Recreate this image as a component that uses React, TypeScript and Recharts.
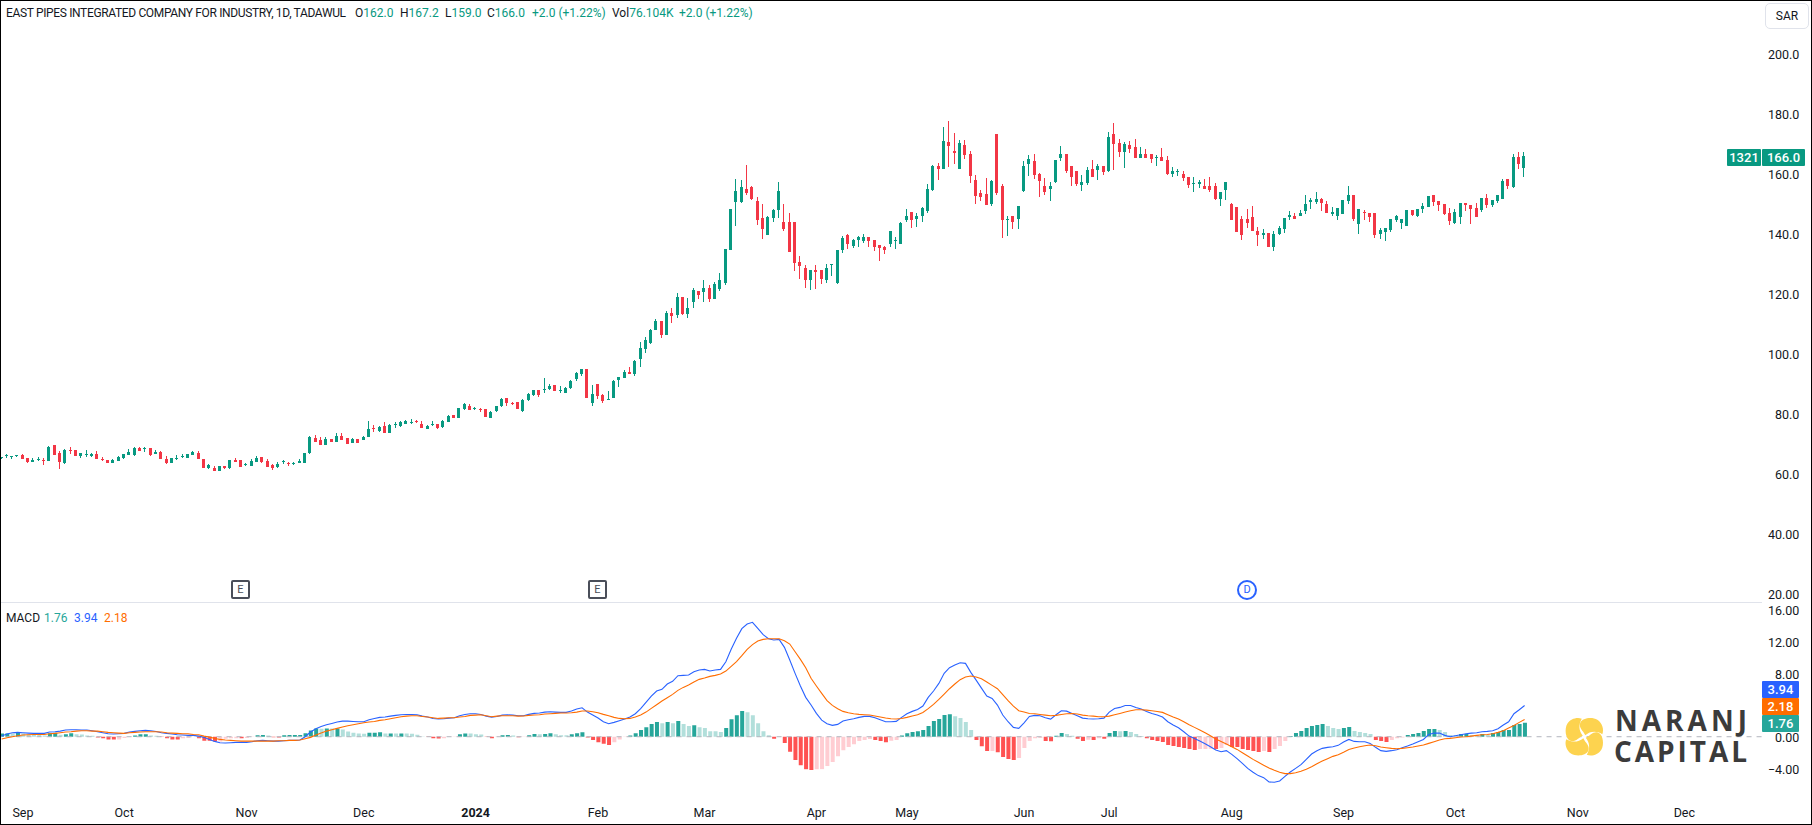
import { Bar, Cell, ComposedChart, Line, ReferenceLine, XAxis, YAxis } from 'recharts'

// daily OHLC (Aug 28 2023 - Oct 20 2024)
const opens = [
  65.2,66.0,65.8,66.0,66.3,65.3,64.1,64.8,64.8,64.4,69.6,66.9,63.6,68.0,68.0,66.0,66.4,66.0,66.7,65.0,
  64.7,63.8,64.4,65.2,66.3,66.3,68.7,68.6,68.6,66.6,67.2,65.1,63.8,65.1,65.8,65.4,66.3,67.1,65.0,61.9,
  62.1,61.1,62.6,61.9,64.7,64.7,63.0,62.7,64.1,65.6,64.2,62.9,62.2,64.1,63.8,63.4,63.7,63.7,66.9,71.9,
  71.4,69.8,71.7,70.8,72.7,71.9,70.3,71.7,71.3,72.3,75.2,74.4,76.0,73.8,76.4,76.0,76.7,77.2,77.6,76.8,
  75.1,76.6,76.6,75.6,77.4,79.7,78.7,81.7,82.7,81.8,81.7,81.6,78.7,81.1,82.6,85.2,83.8,83.9,81.1,84.6,
  86.3,87.9,88.1,88.2,89.7,87.5,87.0,88.6,91.6,93.2,95.0,83.7,90.0,86.2,84.8,85.3,91.3,92.0,94.0,93.3,
  98.3,101.7,103.7,108.0,111.0,106.3,113.7,113.0,119.0,113.3,117.3,121.0,120.7,122.0,118.3,121.7,123.7,134.7,150.7,150.7,
  155.0,155.7,151.0,145.3,139.7,145.3,148.0,144.0,144.0,144.0,130.7,128.7,124.7,128.0,128.0,124.7,129.7,123.7,134.7,139.7,
  136.0,138.0,137.7,139.0,138.0,136.3,135.7,136.7,137.7,136.7,144.7,147.3,145.0,146.0,147.7,154.7,162.7,161.7,170.7,167.7,
  161.7,169.7,166.7,158.0,153.7,153.3,150.0,173.3,156.0,144.7,146.0,145.0,154.3,163.3,164.3,160.0,156.0,155.0,157.3,165.3,
  166.7,162.7,161.0,156.3,157.0,161.7,161.3,162.7,161.0,173.3,170.3,167.3,169.7,169.0,165.3,166.7,166.7,165.4,165.7,164.7,
  160.0,160.8,160.0,159.0,156.8,156.7,156.0,156.0,156.0,151.7,154.7,150.0,149.0,145.0,145.0,145.7,141.0,139.7,140.3,135.7,
  140.0,141.7,145.7,146.0,146.0,147.7,150.7,150.7,151.7,150.0,146.7,146.0,146.7,151.0,153.0,143.3,147.3,147.0,147.0,140.0,
  140.7,141.3,144.7,143.7,142.7,148.0,146.0,148.3,149.0,153.0,151.0,150.0,147.0,143.7,145.7,150.3,149.7,148.7,148.0,152.0,
  149.7,151.0,151.7,158.3,155.7,165.7,162.0,
]

const highs = [
  65.8,66.6,66.0,66.4,66.6,65.4,65.3,65.8,65.3,69.3,69.6,67.8,68.3,68.9,68.0,66.9,67.9,67.1,67.6,65.8,
  64.7,65.0,66.0,66.7,68.4,68.9,69.0,69.0,68.7,67.9,67.7,66.0,65.4,66.4,66.7,66.8,67.7,67.7,65.0,63.4,
  62.7,62.7,62.6,64.7,65.4,64.7,63.7,64.9,66.1,65.8,65.0,63.2,63.9,64.8,64.0,64.0,64.9,67.0,72.7,73.0,
  72.4,72.2,71.8,73.6,73.8,71.9,72.0,71.7,72.7,77.7,76.2,76.0,77.3,76.6,77.2,77.6,78.0,78.2,78.0,77.6,
  76.2,77.6,76.7,78.0,79.7,79.7,82.1,83.7,83.4,82.3,82.0,81.6,81.0,82.8,85.2,85.3,84.1,84.0,85.0,87.0,
  88.0,88.1,91.9,90.0,89.7,89.4,89.0,91.3,94.0,95.0,95.0,89.7,90.0,86.7,87.7,91.3,92.4,94.7,95.7,98.0,
  104.0,105.7,108.3,111.7,111.0,114.3,115.3,120.3,119.0,118.7,122.0,121.0,124.7,123.0,124.0,127.0,135.0,148.3,158.3,158.0,
  163.0,156.0,152.3,150.0,146.0,148.3,157.3,150.0,147.0,144.0,132.7,129.7,128.0,129.7,128.0,130.0,130.0,134.7,139.3,140.0,
  138.3,139.3,140.0,139.0,138.0,136.3,136.0,141.0,139.0,144.0,148.3,147.3,147.0,149.0,156.7,163.0,163.7,175.5,177.5,173.7,
  171.3,171.3,167.7,159.7,154.7,158.7,158.0,173.3,156.7,146.0,146.0,149.3,164.3,166.3,166.7,160.3,158.7,157.3,164.7,169.3,
  166.7,162.7,161.0,159.7,162.3,164.7,163.3,162.7,174.0,177.0,171.7,170.7,171.0,171.7,169.0,168.3,166.7,166.3,168.7,166.0,
  162.3,161.7,161.0,159.0,159.0,158.0,158.3,159.0,157.0,154.0,157.3,150.3,149.0,146.0,148.3,149.3,142.3,141.7,140.3,141.0,
  142.7,145.3,147.7,147.0,148.0,153.0,152.0,154.0,152.0,151.0,149.0,148.7,151.3,156.0,153.0,148.3,148.0,147.0,147.0,142.0,
  142.0,145.0,146.3,145.0,148.0,148.0,148.3,150.3,152.7,153.0,151.0,150.0,148.7,148.3,150.3,150.3,149.7,150.3,152.0,153.3,
  151.3,153.0,158.3,158.3,166.7,167.3,167.2,
]

const lows = [
  65.0,65.4,65.1,65.7,64.9,63.7,64.1,64.3,63.0,64.3,66.4,61.8,63.3,66.7,66.1,65.4,65.8,65.8,65.0,64.4,
  63.7,63.7,64.3,65.1,66.2,66.0,67.7,67.4,66.0,66.5,65.1,63.2,63.7,64.7,65.3,65.4,66.2,65.1,62.1,61.8,
  61.1,61.0,61.8,61.6,64.1,62.3,62.6,62.6,64.0,63.7,62.4,61.3,62.0,63.3,62.7,63.0,63.6,63.6,66.7,70.6,
  69.6,69.7,70.7,70.7,71.2,70.1,70.2,70.4,71.2,72.2,74.1,74.1,73.8,73.8,75.2,75.7,76.6,76.8,76.9,75.3,
  75.0,76.1,75.0,75.2,77.3,78.8,78.6,81.3,81.3,81.4,80.8,79.0,78.6,80.8,82.3,82.8,82.9,81.7,80.7,84.2,
  86.0,85.8,87.0,88.0,87.6,87.1,86.9,88.3,91.0,92.7,85.3,82.7,85.0,83.7,84.7,85.2,89.0,91.9,93.3,92.7,
  95.7,100.3,103.3,108.0,105.3,106.3,110.3,112.0,113.0,112.0,115.3,118.3,117.3,117.3,118.3,121.0,123.0,134.7,142.7,150.3,
  153.0,151.3,143.0,138.3,139.7,144.0,145.3,141.0,134.0,127.7,125.0,122.0,121.3,121.7,123.3,123.7,126.0,123.3,133.7,135.0,
  135.3,135.7,137.0,135.7,134.3,131.0,133.3,135.7,135.0,136.7,144.0,142.0,142.3,144.0,147.0,154.3,158.0,161.7,162.3,163.3,
  161.7,165.0,157.0,150.0,151.0,149.7,149.3,153.0,138.7,139.3,141.7,141.7,154.0,159.3,158.3,152.3,153.0,151.0,157.0,164.3,
  160.3,156.0,156.0,154.3,156.3,159.0,158.0,159.7,160.7,161.3,165.7,162.0,167.0,165.3,165.3,165.3,163.7,162.7,164.3,159.7,
  159.0,159.3,157.7,155.3,154.0,155.3,155.0,154.0,151.3,149.3,151.3,144.7,140.7,138.0,142.0,141.0,136.0,138.3,135.7,134.3,
  139.7,140.3,144.7,145.0,146.0,146.7,148.3,150.0,147.7,147.0,146.0,144.7,146.7,150.0,144.3,140.0,144.7,144.0,138.7,138.3,
  137.7,140.7,144.0,141.7,142.7,146.0,145.7,147.0,149.0,149.3,147.7,146.3,143.0,143.3,143.3,147.7,143.3,145.7,147.3,148.7,
  149.0,150.3,151.7,155.0,155.3,161.7,159.0,
]

const closes = [
  65.6,66.2,66.0,66.4,65.1,64.0,64.8,64.9,64.3,68.9,66.4,64.0,68.1,67.8,66.1,66.9,66.7,66.8,65.1,64.8,
  63.8,64.7,65.7,66.6,67.3,68.7,67.8,68.7,66.4,67.4,65.1,63.7,65.3,65.3,66.0,66.7,67.3,65.1,62.1,63.0,
  61.1,62.7,61.9,64.6,64.1,62.3,63.2,64.3,65.4,64.0,62.4,62.0,63.2,64.3,63.2,63.7,64.3,66.9,72.2,70.7,
  69.7,71.8,70.7,72.6,71.3,70.1,71.6,70.4,72.2,74.9,74.9,75.7,73.8,76.3,76.7,77.2,77.6,77.4,77.2,75.3,
  76.1,76.8,75.3,77.7,79.3,78.8,81.9,83.2,81.3,82.0,81.4,79.0,80.8,82.6,84.9,83.6,83.4,81.7,84.7,86.6,
  87.9,86.2,88.3,89.3,87.7,87.9,88.7,91.1,93.7,95.0,85.3,86.7,86.0,84.3,85.0,91.0,92.3,94.0,93.3,97.7,
  102.0,104.7,108.0,111.0,106.3,113.7,112.7,119.0,113.3,115.3,121.3,119.7,122.0,118.3,123.3,124.7,135.0,148.3,154.3,155.7,
  153.7,151.7,144.7,141.7,145.7,148.0,154.3,141.7,134.0,130.3,129.3,124.7,128.0,127.3,125.0,128.7,130.0,134.7,138.7,136.7,
  138.0,139.0,139.0,137.7,135.7,135.3,134.7,141.0,138.0,143.7,146.0,144.7,146.0,148.7,155.0,162.7,161.7,171.0,169.3,167.0,
  170.3,166.3,159.3,152.7,152.3,149.7,157.7,153.7,144.7,145.0,144.0,149.3,162.7,165.0,159.7,157.7,154.0,156.0,164.7,166.7,
  161.0,159.0,156.7,157.3,161.3,159.0,162.7,160.7,172.3,170.0,167.3,170.0,168.3,165.3,166.7,165.3,165.0,165.7,164.3,160.0,
  161.0,161.0,158.7,156.3,157.0,157.3,155.0,154.7,151.7,154.0,157.3,144.7,140.7,139.7,143.7,141.0,139.7,140.3,135.7,140.0,
  142.0,145.3,146.3,145.0,147.0,150.0,151.3,151.7,150.3,147.0,147.3,148.7,151.3,153.0,145.0,148.3,147.0,145.7,139.7,141.3,
  142.0,145.0,146.0,145.0,148.0,146.3,148.3,149.3,152.7,150.7,149.7,146.7,144.3,147.3,150.3,149.7,148.3,145.7,152.0,149.7,
  151.3,153.0,157.7,156.0,165.7,163.3,166.0,
]

const macdLine = [
  0.08,0.34,0.50,0.55,0.50,0.46,0.42,0.42,0.42,0.59,0.63,0.71,0.84,0.88,0.88,0.84,0.84,0.76,0.63,0.50,
  0.38,0.34,0.38,0.42,0.59,0.67,0.76,0.80,0.76,0.67,0.50,0.42,0.34,0.25,0.21,0.17,0.17,0.08,-0.08,-0.34,
  -0.59,-0.76,-0.80,-0.76,-0.71,-0.71,-0.71,-0.63,-0.50,-0.46,-0.50,-0.55,-0.55,-0.50,-0.46,-0.46,-0.42,0,0.59,1.01,
  1.30,1.51,1.68,1.85,1.97,1.97,1.93,1.89,1.89,2.14,2.31,2.44,2.48,2.60,2.69,2.77,2.81,2.81,2.77,2.60,
  2.48,2.31,2.23,2.27,2.35,2.39,2.65,2.81,2.90,2.90,2.81,2.60,2.48,2.56,2.73,2.77,2.73,2.65,2.65,2.82,
  2.95,2.99,3.11,3.16,3.11,3.07,3.07,3.24,3.49,3.66,3.11,2.74,2.36,1.89,1.64,1.81,2.02,2.23,2.48,2.90,
  3.54,4.33,5.13,5.77,5.98,6.65,6.99,7.70,7.74,7.79,8.21,8.42,8.50,8.29,8.42,8.50,9.47,11.03,12.42,13.64,
  14.23,14.44,13.68,12.88,12.37,12.21,12.29,11.28,9.68,8.00,6.40,4.97,4.00,2.95,2.10,1.64,1.43,1.56,1.98,2.15,
  2.27,2.44,2.57,2.57,2.40,2.15,1.89,1.89,1.94,2.44,2.90,3.20,3.45,3.87,4.97,5.77,6.73,8.00,8.71,9.05,
  9.34,9.26,8.12,7.15,6.14,5.13,4.84,4.00,2.74,1.89,1.18,1.05,1.76,2.56,2.69,2.65,2.39,2.23,2.77,3.28,
  3.23,2.94,2.65,2.35,2.27,2.23,2.27,2.35,3.11,3.57,3.70,3.95,3.95,3.70,3.49,3.19,2.94,2.73,2.48,1.89,
  1.47,1.13,0.63,0.08,-0.21,-0.55,-0.88,-1.26,-1.68,-1.89,-1.76,-2.23,-2.77,-3.36,-3.99,-4.49,-4.91,-5.17,-5.71,-5.75,
  -5.59,-5.00,-4.45,-3.99,-3.53,-2.86,-2.18,-1.76,-1.47,-1.34,-1.26,-1.09,-0.67,-0.34,-0.59,-0.63,-0.63,-0.84,-1.34,-1.76,
  -1.85,-1.76,-1.64,-1.39,-1.18,-0.92,-0.63,-0.34,0.29,0.46,0.46,0.17,0,0.13,0.25,0.38,0.46,0.50,0.63,0.67,
  0.76,1.01,1.47,1.89,2.90,3.40,3.94,
]

const signalLine = [
  -0.29,-0.13,0,0.13,0.21,0.25,0.29,0.29,0.29,0.38,0.42,0.50,0.59,0.63,0.71,0.76,0.76,0.71,0.71,0.63,
  0.55,0.50,0.46,0.42,0.50,0.55,0.59,0.63,0.63,0.63,0.59,0.50,0.46,0.42,0.38,0.38,0.29,0.25,0.08,-0.04,
  -0.21,-0.34,-0.42,-0.46,-0.50,-0.55,-0.55,-0.55,-0.55,-0.55,-0.55,-0.55,-0.50,-0.50,-0.46,-0.46,-0.42,-0.25,-0.08,0.21,
  0.46,0.71,0.88,1.05,1.22,1.39,1.51,1.64,1.76,1.85,1.93,2.06,2.14,2.27,2.39,2.52,2.60,2.65,2.65,2.56,
  2.48,2.39,2.31,2.35,2.39,2.39,2.48,2.56,2.69,2.73,2.77,2.65,2.52,2.60,2.65,2.65,2.65,2.60,2.61,2.69,
  2.74,2.78,2.86,2.90,2.95,2.99,2.99,3.03,3.11,3.24,3.24,3.16,3.03,2.82,2.65,2.44,2.31,2.27,2.31,2.48,
  2.74,3.11,3.58,4.04,4.50,4.92,5.35,5.85,6.23,6.52,6.90,7.24,7.41,7.62,7.74,7.91,8.29,8.88,9.47,10.23,
  11.03,11.62,12.08,12.29,12.37,12.37,12.37,12.12,11.70,10.73,9.76,8.71,7.37,6.40,5.47,4.55,3.96,3.54,3.20,3.03,
  2.90,2.82,2.78,2.74,2.61,2.48,2.36,2.27,2.23,2.31,2.44,2.61,2.78,3.07,3.54,4.08,4.71,5.39,6.06,6.65,
  7.20,7.53,7.66,7.53,7.32,6.90,6.48,6.06,5.30,4.55,3.87,3.28,3.11,2.94,2.90,2.81,2.73,2.65,2.69,2.81,
  2.90,2.94,2.86,2.73,2.65,2.60,2.52,2.52,2.60,2.77,2.94,3.11,3.28,3.40,3.40,3.36,3.28,3.19,3.07,2.77,
  2.48,2.23,1.89,1.51,1.18,0.84,0.50,0.13,-0.29,-0.59,-0.92,-1.26,-1.60,-2.02,-2.44,-2.86,-3.23,-3.61,-3.95,-4.24,
  -4.49,-4.66,-4.66,-4.54,-4.37,-4.12,-3.78,-3.40,-3.07,-2.77,-2.48,-2.27,-1.97,-1.60,-1.43,-1.26,-1.13,-1.05,-1.13,-1.30,
  -1.39,-1.47,-1.51,-1.47,-1.39,-1.30,-1.18,-1.05,-0.84,-0.63,-0.42,-0.25,-0.21,-0.13,-0.04,0,0.08,0.17,0.25,0.29,
  0.38,0.55,0.76,1.09,1.43,1.81,2.18,
]

const histogram = [
  0.40,0.42,0.40,0.50,0.40,0.30,0.25,0.24,0.15,0.45,0.50,0.25,0.30,0.45,0.30,0.29,0.15,0.12,-0.10,-0.20,
  -0.35,-0.36,-0.35,-0.15,-0.05,0.15,0.30,0.31,0.15,0.12,-0.05,-0.20,-0.35,-0.36,-0.20,-0.15,-0.05,-0.20,-0.50,-0.51,
  -0.60,-0.59,-0.25,-0.20,-0.19,-0.20,-0.15,-0.05,0.20,0.21,0.15,-0.08,-0.09,0.20,0.21,0.22,0.23,0.45,0.80,1.05,
  1.00,1.05,1.04,1.05,0.90,0.65,0.50,0.40,0.39,0.50,0.51,0.55,0.40,0.41,0.40,0.41,0.40,0.39,0.25,0.02,
  -0.05,-0.20,-0.21,-0.20,-0.05,-0.02,0.30,0.42,0.41,0.30,0.29,-0.05,-0.20,-0.02,0.20,0.21,0.15,-0.06,-0.05,0.20,
  0.35,0.30,0.35,0.45,0.30,0.20,0.19,0.30,0.45,0.55,-0.10,-0.40,-0.70,-0.90,-1.05,-0.70,-0.35,-0.05,0.15,0.45,
  0.85,1.20,1.60,1.85,1.70,1.85,1.70,2.00,1.60,1.35,1.45,1.20,1.10,0.70,0.69,0.60,1.10,2.20,2.70,3.25,
  3.10,2.70,1.70,0.70,0.20,-0.25,-0.05,-0.80,-1.90,-2.95,-3.60,-4.10,-4.20,-4.10,-4.09,-3.70,-3.20,-2.45,-1.70,-1.30,
  -0.95,-0.55,-0.40,-0.30,-0.40,-0.55,-0.70,-0.50,-0.40,0.15,0.45,0.60,0.70,0.85,1.35,2.00,2.25,2.75,2.85,2.60,
  2.35,1.85,0.85,-0.40,-1.20,-1.80,-1.79,-1.95,-2.55,-2.80,-2.95,-2.70,-1.43,-0.55,-0.20,-0.15,-0.55,-0.56,0.12,0.46,
  0.34,0.12,-0.25,-0.55,-0.38,-0.42,-0.20,-0.25,0.46,0.71,0.70,0.71,0.59,0.34,0.10,-0.20,-0.40,-0.55,-0.67,-1.05,
  -1.18,-1.30,-1.43,-1.55,-1.68,-1.55,-1.54,-1.53,-1.55,-1.43,-1.05,-1.30,-1.31,-1.55,-1.68,-1.80,-1.93,-1.80,-1.93,-1.55,
  -1.18,-0.55,0.10,0.46,0.71,1.09,1.34,1.47,1.60,1.34,1.09,0.96,1.09,1.22,0.71,0.59,0.46,0.34,-0.42,-0.55,
  -0.67,-0.42,-0.20,-0.10,0.21,0.34,0.46,0.71,0.96,0.97,0.84,0.59,0.21,0.20,0.34,0.35,0.21,0.20,0.34,0.21,
  0.46,0.59,0.84,0.85,1.47,1.60,1.76,
]

// empty slots to the right of the last bar, TradingView leaves room there
const emptySlots = 44

// slot index of the first trading day of each month
const timeTicks = [4, 23, 46, 68, 89, 112, 132, 153, 170, 192, 208, 231, 252, 273, 296, 316]
const timeLabels = ['Sep', 'Oct', 'Nov', 'Dec', '2024', 'Feb', 'Mar', 'Apr', 'May', 'Jun', 'Jul', 'Aug', 'Sep', 'Oct', 'Nov', 'Dec']

const priceTicks = [20, 40, 60, 80, 100, 120, 140, 160, 180, 200]
const priceLabels = ['20.00', '40.00', '60.0', '80.0', '100.0', '120.0', '140.0', '160.0', '180.0', '200.0']
const macdTicks = [-4, 0, 8, 12, 16]
const macdLabels = ['\u22124.00', '0.00', '8.00', '12.00', '16.00']

const UP = '#089981'
const DOWN = '#f23645'
const TEXT = '#131722'
const FONT = 'Roboto, sans-serif'
const AXIS_X = 1800.4 // right edge of the scale labels, chart coords

const rows = Array.from({ length: closes.length + emptySlots }, (_, i) => ({
  slot: i,
  range: i < closes.length ? [lows[i], highs[i]] : undefined,
  open: opens[i],
  high: highs[i],
  low: lows[i],
  close: closes[i],
  macd: macdLine[i],
  signal: signalLine[i],
  hist: histogram[i],
}))

function histColor(i: number) {
  const v = histogram[i]
  const prev = i > 0 ? histogram[i - 1] : 0
  if (v >= 0) return v >= prev ? '#26a69a' : '#b2dfdb'
  return v < prev ? '#ff5252' : '#ffcdd2'
}

// wick + body, scaled off the low/high bar recharts already positioned
function Candle(props: any) {
  const { x, y, width, height, payload } = props
  if (payload.close == null) return null
  const { open, high, low, close } = payload
  const perUnit = height / (high - low)
  const top = y + (high - Math.max(open, close)) * perUnit
  const bodyH = Math.max(Math.abs(open - close) * perUnit, 1)
  const mid = Math.round(x + width / 2)
  const fill = close >= open ? UP : DOWN
  return (
    <g shapeRendering="crispEdges">
      <rect x={mid - 0.5} y={y} width={1} height={height} fill={fill} />
      <rect x={mid - 1.5} y={top} width={3} height={bodyH} fill={fill} />
    </g>
  )
}

function ScaleTick(props: any) {
  const { y, payload, values, labels } = props
  return (
    <text x={AXIS_X} y={y + 1} textAnchor="end" dominantBaseline="central" fontSize={12.5} fill={TEXT} fontFamily={FONT}>
      {labels[values.indexOf(payload.value)]}
    </text>
  )
}

function TimeTick(props: any) {
  const { x, payload } = props
  const label = timeLabels[timeTicks.indexOf(payload.value)]
  return (
    <text x={x} y={210} textAnchor="middle" dominantBaseline="central" fontSize={12.5} fill={TEXT} fontFamily={FONT} fontWeight={label === '2024' ? 700 : 400}>
      {label}
    </text>
  )
}

function Tag({ left, top, width, height, bg, children }: any) {
  return (
    <div style={{ position: 'absolute', left, top, width, height, background: bg, color: '#fff', fontSize: 13, fontWeight: 500, lineHeight: `${height}px`, textAlign: 'center', borderRadius: 1 }}>
      {children}
    </div>
  )
}

function Span({ left, top, color = TEXT, size = 12, spacing = 0, children }: any) {
  return (
    <span style={{ position: 'absolute', left, top, color, fontSize: size, letterSpacing: spacing, lineHeight: '16px', whiteSpace: 'nowrap' }}>{children}</span>
  )
}

function EventBox({ left, children }: any) {
  return (
    <div style={{ position: 'absolute', left, top: 580, width: 15, height: 15, border: '2px solid #4a4e59', borderRadius: 2, background: '#fff', color: '#4a4e59', fontSize: 11, lineHeight: '15px', textAlign: 'center' }}>
      {children}
    </div>
  )
}

const petal = 'M1 -1.5 C-1 -6 -6 -9 -4 -14 C-2 -19 8 -20 13 -17 C18 -14 20 -7 18 -2.5 C12 -6 6 -5.5 1 -1.5 Z'

function Logo() {
  return (
    <svg width={1812} height={825} style={{ position: 'absolute', left: 0, top: 0, pointerEvents: 'none' }}>
      <g transform="translate(1584.3 736.7)" fill="#fdd34f">
        {[0, 90, 180, 270].map((r) => (
          <path key={r} d={petal} transform={`rotate(${r})`} />
        ))}
      </g>
      <text x={1615} y={731} fontFamily="'Open Sans', sans-serif" fontWeight={700} fontSize={28} fill="#3b3b3b" textLength={132} lengthAdjust="spacing">NARANJ</text>
      <text x={1614} y={762} fontFamily="'Open Sans', sans-serif" fontWeight={700} fontSize={28} fill="#3b3b3b" textLength={133} lengthAdjust="spacing">CAPITAL</text>
    </svg>
  )
}

export default function App() {
  return (
    <div style={{ position: 'absolute', left: 0, top: 0, width: 1812, height: 825, background: '#fff', overflow: 'hidden', fontFamily: FONT }}>
      <div style={{ position: 'absolute', left: -1.46, top: 0 }}>
        <ComposedChart width={1813.46} height={602} data={rows} margin={{ top: 0, right: 0, bottom: 0, left: 0 }} barCategoryGap={0}>
          <XAxis dataKey="slot" hide />
          <YAxis orientation="right" width={50.885} domain={[17.33, 218]} ticks={priceTicks} interval={0} axisLine={false} tickLine={false} allowDataOverflow tick={<ScaleTick values={priceTicks} labels={priceLabels} />} />
          <Bar dataKey="range" barSize={3} shape={<Candle />} isAnimationActive={false} />
        </ComposedChart>
      </div>
      <div style={{ position: 'absolute', left: -1.46, top: 603 }}>
        <ComposedChart width={1813.46} height={222} data={rows} margin={{ top: 0, right: 0, bottom: 0, left: 0 }}>
          <XAxis dataKey="slot" ticks={timeTicks} interval={0} axisLine={false} tickLine={false} tick={<TimeTick />} height={31} />
          <YAxis orientation="right" width={50.885} domain={[-7.23, 16.88]} ticks={macdTicks} interval={0} axisLine={false} tickLine={false} allowDataOverflow tick={<ScaleTick values={macdTicks} labels={macdLabels} />} />
          <ReferenceLine y={0} stroke="#b2b5be" strokeDasharray="5 5" />
          <Bar dataKey="hist" barSize={4} isAnimationActive={false}>
            {rows.map((r) => (
              <Cell key={r.slot} fill={r.slot < histogram.length ? histColor(r.slot) : 'none'} />
            ))}
          </Bar>
          <Line dataKey="macd" stroke="#2962ff" strokeWidth={1.1} dot={false} activeDot={false} isAnimationActive={false} />
          <Line dataKey="signal" stroke="#ff6d00" strokeWidth={1.1} dot={false} activeDot={false} isAnimationActive={false} />
        </ComposedChart>
      </div>

      <div style={{ position: 'absolute', left: 0, top: 602, width: 1762, height: 1, background: '#e0e3eb' }} />

      <Span left={6} top={5} spacing={-0.35}>EAST PIPES INTEGRATED COMPANY FOR INDUSTRY, 1D, TADAWUL</Span>
      <Span left={355} top={5}>O<span style={{ color: UP }}>162.0</span></Span>
      <Span left={400} top={5}>H<span style={{ color: UP }}>167.2</span></Span>
      <Span left={445} top={5}>L<span style={{ color: UP }}>159.0</span></Span>
      <Span left={487} top={5}>C<span style={{ color: UP }}>166.0</span></Span>
      <Span left={532} top={5} color={UP}>+2.0 (+1.22%)</Span>
      <Span left={612} top={5}>Vol<span style={{ color: UP }}>76.104K</span></Span>
      <Span left={679} top={5} color={UP}>+2.0 (+1.22%)</Span>

      <Span left={6} top={610}>MACD</Span>
      <Span left={44} top={610} color="#26a69a">1.76</Span>
      <Span left={74} top={610} color="#2962ff">3.94</Span>
      <Span left={104} top={610} color="#ff6d00">2.18</Span>

      <EventBox left={231}>E</EventBox>
      <EventBox left={588}>E</EventBox>
      <div style={{ position: 'absolute', left: 1237, top: 580, width: 16, height: 16, border: '2px solid #2962ff', borderRadius: '50%', background: '#fff', color: '#2962ff', fontSize: 11, lineHeight: '16px', textAlign: 'center' }}>D</div>

      <div style={{ position: 'absolute', left: 1765, top: 3, width: 42, height: 24, border: '1px solid #e0e3eb', borderRadius: 5, color: TEXT, fontSize: 12, lineHeight: '24px', textAlign: 'center' }}>SAR</div>

      <Tag left={1727} top={149} width={34} height={17} bg={UP}>1321</Tag>
      <Tag left={1762} top={149} width={43} height={17} bg={UP}>166.0</Tag>
      <Tag left={1762} top={681} width={37} height={17} bg="#2962ff">3.94</Tag>
      <Tag left={1762} top={698} width={37} height={17} bg="#ff6d00">2.18</Tag>
      <Tag left={1762} top={715} width={37} height={17} bg="#26a69a">1.76</Tag>

      <Logo />

      <div style={{ position: 'absolute', left: 0, top: 0, width: 1810, height: 823, border: '1px solid #000', pointerEvents: 'none' }} />
    </div>
  )
}
